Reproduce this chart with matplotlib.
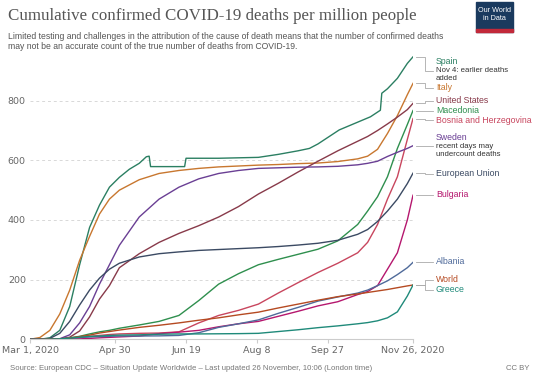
import numpy as np
import pandas as pd
import matplotlib
matplotlib.use("Agg")
import matplotlib.pyplot as plt
from matplotlib.patches import Rectangle

# days since Mar 1, 2020
start = pd.Timestamp("2020-03-01")
days = [0, 7, 14, 21, 28, 35, 42, 49, 56, 63, 77, 91, 105, 119, 133, 147, 161,
        175, 189, 203, 217, 231, 238, 245, 252, 259, 266, 270]

spain_days = [0, 7, 14, 21, 28, 35, 42, 49, 56, 63, 70, 77, 82, 84, 85, 109, 110,
              133, 161, 175, 189, 197, 203, 218, 231, 240, 247, 248, 252, 259, 266, 270]
spain = [0, 0, 5, 30, 110, 250, 375, 450, 510, 543, 570, 590, 612, 614, 579, 579, 607,
         607, 610, 620, 632, 640, 655, 702, 728, 746, 768, 825, 840, 875, 925, 947]

italy = [0, 6, 30, 85, 165, 265, 345, 420, 470, 500, 535, 556, 566, 573, 578, 581, 584,
         586, 589, 591, 596, 605, 614, 637, 690, 750, 820, 858]
united_states = [0, 0, 0.2, 1, 7, 28, 75, 135, 180, 240, 287, 325, 355, 381, 410, 445, 487,
                 523, 561, 597, 632, 664, 680, 700, 722, 745, 770, 791]
macedonia = [0, 0, 0, 1, 5, 10, 18, 25, 30, 37, 48, 60, 80, 130, 185, 220, 250,
             268, 285, 302, 330, 385, 430, 478, 545, 640, 720, 767]
bosnia = [0, 0, 0, 0.5, 2, 6, 10, 13, 16, 18, 20, 21, 25, 55, 80, 97, 118,
          155, 190, 224, 255, 290, 325, 385, 470, 545, 670, 740]
sweden = [0, 0, 0.2, 2, 15, 55, 110, 185, 250, 315, 410, 470, 510, 538, 556, 566, 573,
          575, 577, 578, 580, 585, 590, 597, 613, 627, 640, 649]
eu = [0, 0.3, 3, 20, 60, 115, 165, 205, 235, 255, 276, 287, 293, 298, 301, 304, 307,
      311, 316, 322, 332, 352, 368, 395, 430, 470, 522, 557]
bulgaria = [0, 0, 0, 0.2, 0.5, 1.5, 3, 5, 6.5, 8, 11, 19, 24, 30, 42, 52, 60,
            77, 94, 112, 126, 150, 160, 180, 235, 290, 400, 483]
albania = [0, 0, 0.3, 1, 4, 6, 8, 9, 10, 11, 11, 11.5, 13, 22, 40, 52, 65,
           87, 107, 128, 142, 155, 165, 180, 196, 217, 240, 258]
world = [0, 0.5, 0.8, 1.7, 4.2, 9, 14, 21, 26, 31, 40, 47, 55, 64, 72, 82, 91,
         105, 118, 131, 143, 152, 157, 162, 167, 173, 179, 182]
greece = [0, 0, 0.5, 1.5, 4, 7, 9.5, 11, 13, 14, 15, 17, 18, 18, 18.5, 19, 20,
          26, 32, 39, 45, 52, 56, 62, 72, 92, 145, 182]

series = [
    ("Spain", spain_days, spain, "#2b7f62"),
    ("Italy", days, italy, "#c8772f"),
    ("United States", days, united_states, "#883a4a"),
    ("Macedonia", days, macedonia, "#2f8f4e"),
    ("Bosnia and Herzegovina", days, bosnia, "#c8465e"),
    ("Sweden", days, sweden, "#6a3f94"),
    ("European Union", days, eu, "#3b4a63"),
    ("Bulgaria", days, bulgaria, "#b5176e"),
    ("Albania", days, albania, "#4f6a9a"),
    ("World", days, world, "#b54a22"),
    ("Greece", days, greece, "#1f8a7a"),
]

# label y (pixels from top), connector target y, note
labels = {
    "Spain": (62, 71, "Nov 4: earlier deaths\nadded"),
    "Italy": (88, 88, None),
    "United States": (100.7, 100.7, None),
    "Macedonia": (110.7, 110.7, None),
    "Bosnia and Herzegovina": (120.3, 120.3, None),
    "Sweden": (137.7, 146, "recent days may\nundercount deaths"),
    "European Union": (174, 174, None),
    "Bulgaria": (194.7, 194.7, None),
    "Albania": (262, 262, None),
    "World": (280, 280, None),
    "Greece": (290, 290, None),
}

tick_days = [0, 60, 110, 160, 210, 270]

W, H = 540, 381
fig = plt.figure(figsize=(W / 100, H / 100), dpi=100)
ax = fig.add_axes([30 / W, (H - 339.3) / H, 383 / W, (339.3 - 55.95) / H])

for name, d, v, c in series:
    ax.plot(d, v, color=c, lw=1.0, zorder=3)

ax.set_xlim(0, 270)
ax.set_ylim(0, 950)
ax.set_yticks([0, 200, 400, 600, 800])
ax.yaxis.grid(True, color="#d8d8d8", ls=(0, (3, 3)), lw=0.7)
ax.set_axisbelow(True)
for s in ["top", "right", "left"]:
    ax.spines[s].set_visible(False)
ax.spines["bottom"].set_color("#cccccc")
ax.spines["bottom"].set_linewidth(0.8)
ax.tick_params(axis="y", length=0, labelsize=6.8, labelcolor="#666666", pad=3)
ax.set_xticks(tick_days)
tick_labels = []
for i, t in enumerate(tick_days):
    dt = start + pd.Timedelta(days=t)
    lab = f"{dt:%b} {dt.day}"
    if i in (0, len(tick_days) - 1):
        lab += f", {dt.year}"
    tick_labels.append(lab)
ax.set_xticklabels(tick_labels)
ax.tick_params(axis="x", length=3, color="#cccccc", labelsize=6.8, labelcolor="#666666", pad=2)

# overlay in pixel coordinates
ov = fig.add_axes([0, 0, 1, 1], zorder=5)
ov.set_xlim(0, W)
ov.set_ylim(H, 0)
ov.axis("off")
ov.patch.set_alpha(0)

ov.text(8, 20, "Cumulative confirmed COVID-19 deaths per million people",
        family="Liberation Serif", fontsize=12.2, color="#555555", va="baseline")
ov.text(8, 39, "Limited testing and challenges in the attribution of the cause of death means that the number of confirmed deaths",
        family="Liberation Sans", fontsize=6.2, color="#555555", va="baseline")
ov.text(8, 49, "may not be an accurate count of the true number of deaths from COVID-19.",
        family="Liberation Sans", fontsize=6.2, color="#555555", va="baseline")

ov.add_patch(Rectangle((476, 2), 37, 30, color="#1a3a5e"))
ov.add_patch(Rectangle((476, 29), 37, 3, color="#c2293a"))
ov.text(494.5, 10, "Our World", family="Liberation Sans", fontsize=5.2, color="white",
        ha="center", va="center")
ov.text(494.5, 19, "in Data", family="Liberation Sans", fontsize=5.2, color="white",
        ha="center", va="center")

ov.text(10, 368, "Source: European CDC \u2013 Situation Update Worldwide \u2013 Last updated 26 November, 10:06 (London time)",
        family="Liberation Sans", fontsize=5.6, color="#777777", va="center")
ov.text(530, 368, "CC BY", family="Liberation Sans", fontsize=5.6, color="#777777",
        va="center", ha="right")

for name, d, v, c in series:
    x_disp, y_disp = ax.transData.transform((d[-1], v[-1]))
    y_end = H - y_disp
    ly, ty, note = labels[name]
    ov.plot([x_disp + 3, 425, 425, 433], [y_end, y_end, ty, ty],
            color="#aaaaaa", lw=0.6)
    ov.text(436, ly, name, family="Liberation Sans", fontsize=6.3, color=c, va="center")
    if note:
        for k, line in enumerate(note.split("\n")):
            ov.text(436, ly + 8.5 * (k + 1), line, family="Liberation Sans",
                    fontsize=5.6, color="#333333", va="center")

fig.savefig("out.png", dpi=100)
